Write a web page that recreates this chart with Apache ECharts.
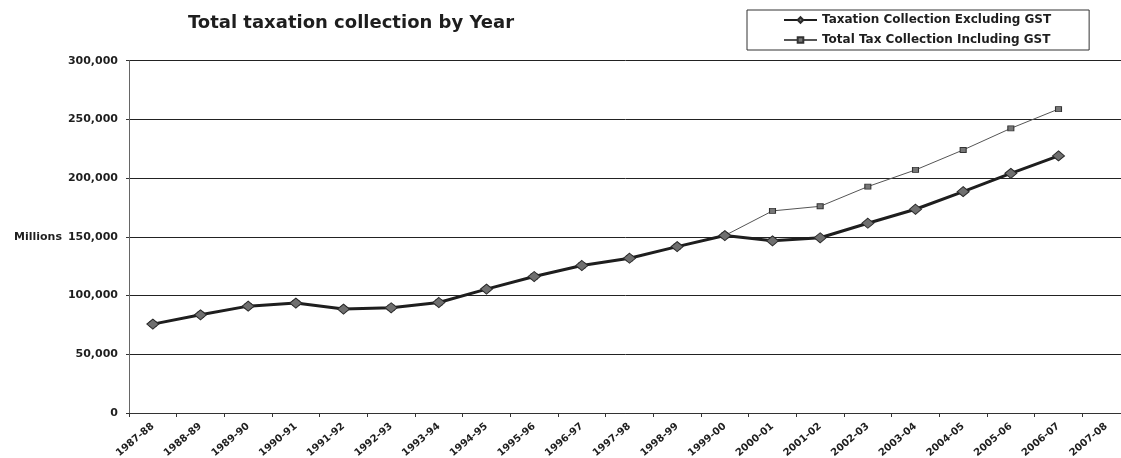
<!DOCTYPE html>
<html>
<head>
<meta charset="utf-8">
<script src="https://cdn.jsdelivr.net/npm/echarts@6/dist/echarts.min.js"></script>
<style>
html,body{margin:0;padding:0;background:#fff;overflow:hidden;}
#chart{width:1121px;height:458px;}
</style>
</head>
<body>
<div id="chart"></div>
<script>
const categories = ["1987-88","1988-89","1989-90","1990-91","1991-92","1992-93","1993-94","1994-95","1995-96","1996-97","1997-98","1998-99","1999-00","2000-01","2001-02","2002-03","2003-04","2004-05","2005-06","2006-07","2007-08"];
const excludingGST = [75700, 83600, 91000, 93600, 88500, 89600, 94100, 105500, 116200, 125600, 131800, 141700, 151100, 146600, 149200, 161600, 173500, 188500, 204100, 218900, null];
const includingGST = [75700, 83600, 91000, 93600, 88500, 89600, 94100, 105500, 116200, 125600, 131800, 141700, 151100, 172100, 176000, 192800, 207000, 224000, 242400, 258800, null];
const seriesNames = ["Taxation Collection Excluding GST", "Total Tax Collection Including GST"];
const titleText = "Total taxation collection by Year";
const yAxisName = "Millions";

const FONT = "DejaVu Sans";
const chart = echarts.init(document.getElementById('chart'), null, {renderer: 'canvas'});
chart.setOption({
  backgroundColor: '#ffffff',
  animation: false,
  graphic: [
    {type: 'text', x: 351, y: 23, style: {text: titleText, font: 'bold 18px "DejaVu Sans"', fill: '#1e1e1e', textAlign: 'center', textVerticalAlign: 'middle'}},
    {type: 'text', x: 62, y: 237, style: {text: yAxisName, font: 'bold 11px "DejaVu Sans"', fill: '#1e1e1e', textAlign: 'right', textVerticalAlign: 'middle'}}
  ],
  legend: {
    data: seriesNames,
    orient: 'vertical',
    left: 747,
    top: 10,
    itemWidth: 33,
    itemHeight: 7,
    itemGap: 6,
    padding: [3, 38, 3, 36],
    borderColor: '#333',
    borderWidth: 1,
    selectedMode: false,
    textStyle: {fontFamily: FONT, fontWeight: 'bold', fontSize: 12, color: '#1e1e1e', lineHeight: 14}
  },
  grid: {left: 129, right: -9, top: 60.7, bottom: 45, containLabel: false, outerBoundsMode: 'none'},
  xAxis: {
    type: 'category',
    data: categories,
    boundaryGap: true,
    axisLine: {lineStyle: {color: '#333', width: 1}},
    axisTick: {show: true, length: 4, lineStyle: {color: '#333'}},
    axisLabel: {interval: 0, rotate: 40, margin: 12, fontFamily: FONT, fontWeight: 'bold', fontSize: 10, color: '#1e1e1e'},
    splitLine: {show: false}
  },
  yAxis: {
    type: 'value',
    min: 0, max: 300000, interval: 50000,
    axisLine: {show: true, lineStyle: {color: '#666', width: 1}},
    axisTick: {show: true, length: 3, lineStyle: {color: '#333'}},
    axisLabel: {margin: 11, fontFamily: FONT, fontWeight: 'bold', fontSize: 11, color: '#1e1e1e',
      formatter: v => v.toLocaleString('en-US')},
    splitLine: {show: true, lineStyle: {color: '#222', width: 1}}
  },
  series: [
    {
      name: seriesNames[0], type: 'line', data: excludingGST, z: 4,
      symbol: 'diamond', symbolSize: [12, 10], showAllSymbol: true,
      lineStyle: {color: '#1e1e1e', width: 3},
      itemStyle: {color: '#6f6f6f', borderColor: '#2a2a2a', borderWidth: 1}
    },
    {
      name: seriesNames[1], type: 'line', data: includingGST, z: 3,
      symbol: 'rect', symbolSize: [6, 5], showAllSymbol: true,
      lineStyle: {color: '#555', width: 1},
      itemStyle: {color: '#777', borderColor: '#333', borderWidth: 1}
    }
  ]
});
</script>
</body>
</html>
